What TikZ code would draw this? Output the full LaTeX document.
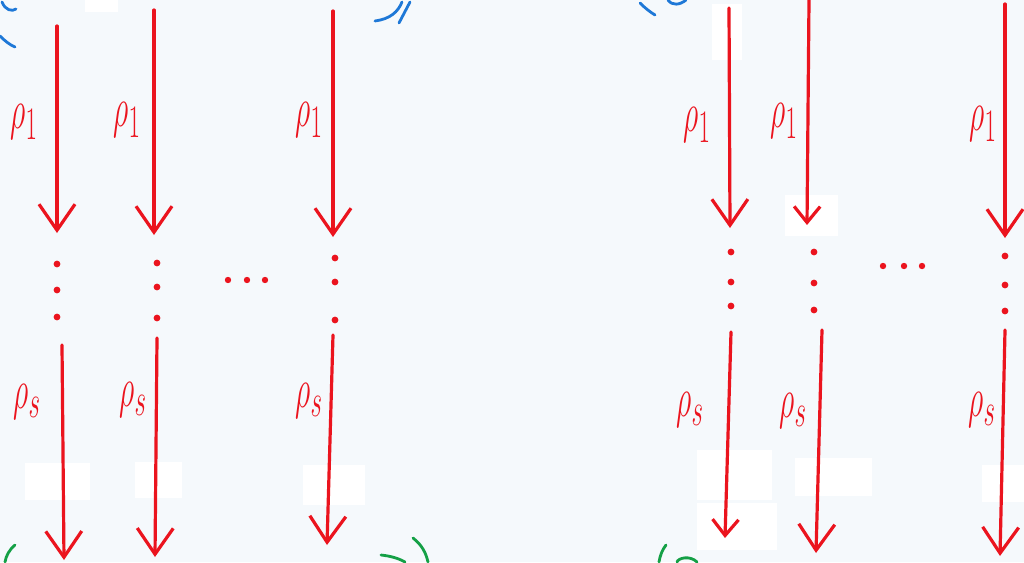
\documentclass[tikz,border=0pt]{standalone}
\usetikzlibrary{arrows.meta}
\definecolor{paper}{RGB}{245,249,252}
\definecolor{pen}{RGB}{235,20,30}
\definecolor{bluepen}{RGB}{30,120,215}
\definecolor{greenpen}{RGB}{20,160,70}
\tikzset{
  flow/.style={draw=pen, line width=3.2pt, line cap=round,
    -{Straight Barb[length=26pt,width=36pt,line width=3.2pt]}},
  smallflow/.style={draw=pen, line width=3.2pt, line cap=round,
    -{Straight Barb[length=16pt,width=26pt,line width=3.2pt]}},
  lbl/.style={text=pen, font=\Huge, inner sep=0pt},
  dotmark/.style={fill=pen, draw=none},
  tape/.style={fill=white, draw=none},
  blue stroke/.style={draw=bluepen, line width=2.8pt, line cap=round},
  green stroke/.style={draw=greenpen, line width=2.8pt, line cap=round}
}
\newcommand{\rlab}[1]{\scalebox{1.2}[2.25]{$\rho_{#1}$}}
\begin{document}
\begin{tikzpicture}[x=1pt,y=-1pt]
\useasboundingbox (0,0) rectangle (1024,562);
\fill[paper] (0,0) rectangle (1024,562);
% correction tape patches
\fill[tape] (85,0) rectangle (118,12);
\fill[tape] (712,4) rectangle (742,60);
\fill[tape] (785,195) rectangle (838,236);
\fill[tape] (25,463) rectangle (90,500);
\fill[tape] (135,462) rectangle (182,498);
\fill[tape] (303,465) rectangle (365,505);
\fill[tape] (697,450) rectangle (772,500);
\fill[tape] (697,503) rectangle (777,550);
\fill[tape] (795,458) rectangle (872,496);
\fill[tape] (982,465) rectangle (1024,502);
% blue curves at top
\draw[blue stroke] (2,2) .. controls (5,10) and (12,12) .. (16,9);
\draw[blue stroke] (0,36) .. controls (5,41) and (10,45) .. (15,47);
\draw[blue stroke] (375,21) .. controls (390,19) and (398,12) .. (402,2);
\draw[blue stroke] (399,23) -- (410,2);
\draw[blue stroke] (640,3) .. controls (645,8) and (650,12) .. (655,15);
\draw[blue stroke] (668,0) .. controls (672,6) and (680,5) .. (686,0);
% green curves at bottom
\draw[green stroke] (15,545) .. controls (9,550) and (6,556) .. (5,562);
\draw[green stroke] (413,538) .. controls (422,545) and (426,553) .. (428,562);
\draw[green stroke] (381,555) .. controls (390,556) and (398,558) .. (405,562);
\draw[green stroke] (666,545) .. controls (662,550) and (660,556) .. (659,562);
\draw[green stroke] (677,562) .. controls (678,558) and (690,555) .. (697,562);
% endpoints
\coordinate (a1s) at (57,26);  \coordinate (a1e) at (57,233);
\coordinate (a2s) at (154,10); \coordinate (a2e) at (154,235);
\coordinate (a3s) at (333,11); \coordinate (a3e) at (333,237);
\coordinate (a4s) at (729,8);  \coordinate (a4e) at (730,228);
\coordinate (a5s) at (809,0);  \coordinate (a5e) at (807,225);
\coordinate (a6s) at (1005,4); \coordinate (a6e) at (1005,238);
\coordinate (b1s) at (62,345); \coordinate (b1e) at (64,560);
\coordinate (b2s) at (157,338);\coordinate (b2e) at (155,557);
\coordinate (b3s) at (333,335);\coordinate (b3e) at (327,545);
\coordinate (b4s) at (731,332);\coordinate (b4e) at (725,538);
\coordinate (b5s) at (822,330);\coordinate (b5e) at (816,553);
\coordinate (b6s) at (1005,330);\coordinate (b6e) at (1000,556);
% upper arrows
\draw[flow] (a1s) -- (a1e);
\draw[flow] (a2s) -- (a2e);
\draw[flow] (a3s) -- (a3e);
\draw[flow] (a4s) -- (a4e);
\draw[smallflow] (a5s) -- (a5e);
\draw[flow] (a6s) -- (a6e);
% lower arrows
\draw[flow] (b1s) -- (b1e);
\draw[flow] (b2s) -- (b2e);
\draw[flow] (b3s) -- (b3e);
\draw[smallflow] (b4s) -- (b4e);
\draw[flow] (b5s) -- (b5e);
\draw[flow] (b6s) -- (b6e);
% labels rho_1
\node[lbl] (l1) at (24,122) {\rlab{1}};
\node[lbl] (l2) at (127,120) {\rlab{1}};
\node[lbl] (l3) at (309,120) {\rlab{1}};
\node[lbl] (l4) at (697,125) {\rlab{1}};
\node[lbl] (l5) at (784,121) {\rlab{1}};
\node[lbl] (l6) at (983,124) {\rlab{1}};
% labels rho_s
\node[lbl] (s1) at (27,402) {\rlab{s}};
\node[lbl] (s2) at (133,400) {\rlab{s}};
\node[lbl] (s3) at (309,401) {\rlab{s}};
\node[lbl] (s4) at (690,410) {\rlab{s}};
\node[lbl] (s5) at (793,411) {\rlab{s}};
\node[lbl] (s6) at (982,410) {\rlab{s}};
% vertical dots
\foreach \x/\ya/\yb/\yc in {57/264/290/317, 157/263/287/318, 335/258/282/320,
                             731/252/282/306, 814/252/283/310, 1005/256/285/311}
  {\fill[dotmark] (\x,\ya) circle (3.4pt);
   \fill[dotmark] (\x,\yb) circle (3.4pt);
   \fill[dotmark] (\x,\yc) circle (3.4pt);}
% horizontal dots
\foreach \x in {228,247,265} \fill[dotmark] (\x,280) circle (3.2pt);
\foreach \x in {883,904,922} \fill[dotmark] (\x,266) circle (3.2pt);
\end{tikzpicture}
\end{document}
